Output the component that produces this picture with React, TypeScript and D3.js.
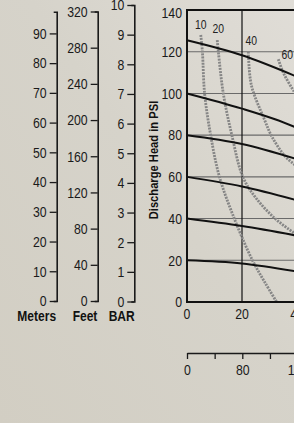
import React, { useEffect, useRef } from "react";
import * as d3 from "d3";

// pump curve: flow (GPM / LPM) against discharge head
const psiTicks = [0, 20, 40, 60, 80, 100, 120, 140];
const gpmTicks = [0, 20, 40];
const meterTicks = [0, 10, 20, 30, 40, 50, 60, 70, 80, 90];
const feetTicks = [0, 40, 80, 120, 160, 200, 240, 280, 320];
const barTicks = [0, 1, 2, 3, 4, 5, 6, 7, 8, 9, 10];
const lpmTicks = [0, 40, 80, 120, 160];
const lpmLabels = [0, 80, 160];

// air inlet pressure lines (gpm, psi)
const air125 = [{ x: 0, y: 125.5 }, { x: 20, y: 118.3 }, { x: 40, y: 108 }];
const air100 = [{ x: 0, y: 100 }, { x: 20, y: 92.7 }, { x: 32, y: 87.6 }, { x: 40, y: 83.5 }];
const air80 = [{ x: 0, y: 80 }, { x: 20, y: 75.8 }, { x: 40, y: 68.5 }];
const air60 = [{ x: 0, y: 60 }, { x: 20, y: 55.4 }, { x: 40, y: 48.8 }];
const air40 = [{ x: 0, y: 40 }, { x: 20, y: 36.4 }, { x: 40, y: 31.8 }];
const air20 = [{ x: 0, y: 20 }, { x: 20, y: 18.5 }, { x: 40, y: 14.6 }];
const airLines = [air125, air100, air80, air60, air40, air20];

// air consumption (scfm) curves
const scfmLabels = ["10", "20", "40", "60"];
const scfm10 = [
  { x: 5.0, y: 128 }, { x: 5.6, y: 120 }, { x: 6.4, y: 100 }, { x: 8.6, y: 80 },
  { x: 11.8, y: 60 }, { x: 17.2, y: 40 }, { x: 23.8, y: 20 }, { x: 28.5, y: 9 }, { x: 32.6, y: 0 },
];
const scfm20 = [
  { x: 11.0, y: 125.5 }, { x: 11.4, y: 120 }, { x: 13.2, y: 100 }, { x: 16.3, y: 80 },
  { x: 20.3, y: 60 }, { x: 25, y: 50 }, { x: 32, y: 40 }, { x: 39, y: 33 }, { x: 42, y: 30 },
];
const scfm40 = [
  { x: 22.3, y: 120 }, { x: 23.4, y: 104 }, { x: 28, y: 88 }, { x: 31, y: 79 },
  { x: 35.6, y: 70 }, { x: 39, y: 66 }, { x: 42, y: 63 },
];
const scfm60 = [{ x: 33.2, y: 116.4 }, { x: 35, y: 110 }, { x: 38.9, y: 101 }, { x: 42, y: 95 }];
const scfmLines = [scfm10, scfm20, scfm40, scfm60];

const W = 294;
const H = 423;
const font = "'Liberation Sans', Arial, sans-serif";
const NARROW = 0.82; // the original uses a condensed face
const labelNudge = [[0, -6], [1, -7], [3, -7], [9, 0]];

// squeezed text, anchored at (x, y)
const NText = ({ x, y, s = NARROW, anchor = "middle", rotate = 0, children, ...rest }: any) => (
  <text transform={`translate(${x},${y}) rotate(${rotate}) scale(${s},1)`} textAnchor={anchor} {...rest}>
    {children}
  </text>
);

const App = () => {
  const metersRef = useRef<SVGGElement>(null);
  const feetRef = useRef<SVGGElement>(null);
  const barRef = useRef<SVGGElement>(null);
  const lpmRef = useRef<SVGGElement>(null);

  const xScale = d3.scaleLinear().domain([0, 40]).range([187, 297]);
  const yScale = d3.scaleLinear().domain([0, 140]).range([302, 10]);

  const meters = d3.scaleLinear().domain([0, 97.3]).range([301, 11.7]);
  const feet = d3.scaleLinear().domain([0, 320]).range([301, 11.5]);
  const bar = d3.scaleLinear().domain([0, 10]).range([301.5, 5]);
  const lpm = d3.scaleLinear().domain([0, 160]).range([187, 297.6]);

  const airPath = d3.line<{ x: number; y: number }>()
    .x(d => xScale(d.x)).y(d => yScale(d.y)).curve(d3.curveMonotoneX);
  const scfmPath = d3.line<{ x: number; y: number }>()
    .x(d => xScale(d.x)).y(d => yScale(d.y)).curve(d3.curveCatmullRom.alpha(0.5));

  useEffect(() => {
    const style = (g: d3.Selection<SVGGElement, unknown, null, undefined>) => {
      g.attr("font-family", font).attr("font-size", 15);
      g.selectAll("path.domain").attr("stroke", "#1a1a1a").attr("stroke-width", 1.6);
      g.selectAll(".tick line").attr("stroke", "#1a1a1a").attr("stroke-width", 1.3);
      g.selectAll<SVGTextElement, unknown>(".tick text").each(function () {
        const t = d3.select(this);
        const x = +(t.attr("x") || 0);
        t.attr("fill", "#1a1a1a").attr("x", x / NARROW).attr("transform", `scale(${NARROW},1)`);
      });
    };
    const left = (ref: SVGGElement | null, s: d3.ScaleLinear<number, number>, t: number[]) => {
      const g = d3.select(ref);
      g.selectAll("*").remove();
      g.call(d3.axisLeft(s).tickValues(t).tickSizeInner(7).tickSizeOuter(3).tickPadding(3));
      style(g);
    };
    left(metersRef.current, meters, meterTicks);
    left(feetRef.current, feet, feetTicks);
    left(barRef.current, bar, barTicks);

    const b = d3.select(lpmRef.current);
    b.selectAll("*").remove();
    b.call(
      d3.axisBottom(lpm).tickValues(lpmTicks).tickSizeInner(6).tickSizeOuter(0).tickPadding(5)
        .tickFormat(d => (lpmLabels.includes(+d) ? String(d) : ""))
    );
    style(b);
  }, []);

  return (
    <svg width={W} height={H} style={{ position: "fixed", left: 0, top: 0 }}>
      <defs>
        <linearGradient id="bg" x1="0" y1="1" x2="1" y2="0">
          <stop offset="0" stopColor="#d2cec3" />
          <stop offset="0.55" stopColor="#d6d3ca" />
          <stop offset="1" stopColor="#e0ddd7" />
        </linearGradient>
      </defs>
      <rect width={W} height={H} fill="url(#bg)" />

      <g ref={metersRef} transform="translate(56.7,0)" />
      <g ref={feetRef} transform="translate(97.7,0)" />
      <g ref={barRef} transform="translate(134.3,0)" />

      <g fontFamily={font} fontWeight="bold" fontSize={14} fill="#111">
        <NText x={36.7} y={320.5} s={0.86}>Meters</NText>
        <NText x={85} y={320.5} s={0.86}>Feet</NText>
        <NText x={121.7} y={320.5} s={0.86}>BAR</NText>
        <NText x={158} y={160} s={0.86} rotate={-90} fontSize={13}>Discharge Head in PSI</NText>
      </g>

      {/* grid */}
      {psiTicks.filter(t => t > 0 && t < 140).map(t => (
        <line key={t} x1={xScale(0)} x2={W} y1={yScale(t)} y2={yScale(t)} stroke="#6a6a6a" strokeWidth={1.1} />
      ))}
      {gpmTicks.filter(t => t > 0).map(t => (
        <line key={t} x1={xScale(t)} x2={xScale(t)} y1={yScale(140)} y2={yScale(0)} stroke="#111" strokeWidth={1.2} />
      ))}

      {/* scfm curves */}
      {scfmLines.map((pts, i) => (
        <g key={i}>
          <path d={scfmPath(pts) || ""} fill="none" stroke="#868686" strokeWidth={2.8} strokeDasharray="2 1.1" />
          <NText x={xScale(pts[0].x) + labelNudge[i][0]} y={yScale(pts[0].y) + labelNudge[i][1]}
                 fontFamily={font} fontSize={13} fill="#222" s={0.8}>{scfmLabels[i]}</NText>
        </g>
      ))}

      {/* air pressure lines */}
      {airLines.map((pts, i) => (
        <path key={i} d={airPath(pts) || ""} fill="none" stroke="#111" strokeWidth={2} />
      ))}

      {/* frame */}
      <path d={`M${W},${yScale(140)}H${xScale(0)}V${yScale(0)}H${W}`} fill="none" stroke="#111" strokeWidth={2} />

      <g fontFamily={font} fontSize={15} fill="#1a1a1a">
        {psiTicks.map(t => (
          <NText key={t} x={182} y={t === 140 ? yScale(t) + 3 : yScale(t)} dy="0.35em" anchor="end">{t}</NText>
        ))}
        {gpmTicks.map(t => (
          <NText key={t} x={xScale(t)} y={319}>{t}</NText>
        ))}
      </g>

      <g ref={lpmRef} transform="translate(0,353)" />
    </svg>
  );
};

export default App;
